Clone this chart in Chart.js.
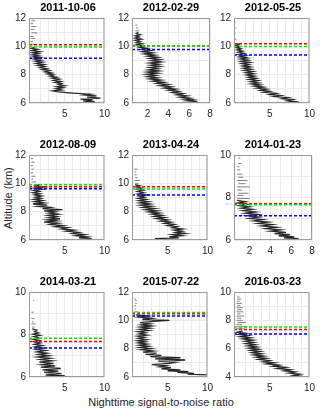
<!DOCTYPE html>
<html>
<head>
<meta charset="utf-8">
<title>Nighttime SNR profiles</title>
<script src="https://cdn.jsdelivr.net/npm/chart.js"></script>
<style>
  body { margin: 0; background: #fff; font-family: "Liberation Sans", Arial, sans-serif; }
  #wrap { position: relative; width: 320px; height: 411px; overflow: hidden; }
  canvas { position: absolute; }
  .ttl { position: absolute; width: 78px; font-size: 11px; font-weight: bold; line-height: 14px; text-align: center; color: #000; }
  #ylab { position: absolute; left: 2px; top: 229px; font-size: 11px; color: #262626; transform-origin: 0 0; transform: rotate(-90deg); white-space: nowrap; }
  #xlab { position: absolute; left: 0; top: 396px; width: 322px; font-size: 11px; color: #262626; text-align: center; }
</style>
</head>
<body>
<div id="wrap">
  <div id="ylab">Altitude (km)</div>
  <div id="xlab">Nighttime signal-to-noise ratio</div>
</div>

<script>
// panel info
const dates = ['2011-10-06', '2012-02-29', '2012-05-25', '2012-08-09', '2013-04-24', '2014-01-23', '2014-03-21', '2015-07-22', '2016-03-23'];
const xMaxs = [10, 8, 10, 10, 10, 8, 10, 10, 10];
const yMins = [6, 6, 6, 6, 6, 6, 6, 6, 4];
const yMaxs = [12, 12, 12, 12, 12, 10, 10, 12, 10];

// threshold altitudes (km)
const redAlt   = [10.12, 10.05, 10.19, 9.76, 9.76, 7.71, 7.67, 10.47, 7.35];
const greenAlt = [9.96, 10.02, 9.99, 9.90, 9.60, 7.66, 7.82, 10.55, 7.53];
const blueAlt  = [9.16, 9.78, 9.39, 9.62, 9.18, 7.14, 7.37, 10.30, 7.03];

// profiles: [altitude, snr]
const prof1 = [[6.00,9.2],[6.05,7.6],[6.10,8.8],[6.15,7.3],[6.22,8.5],[6.28,7.0],[6.35,9.5],[6.42,7.8],[6.50,9.0],[6.56,7.5],[6.62,8.2],[6.70,6.0],[6.78,4.2],[6.85,3.5],[6.92,4.6],[7.00,3.9],[7.08,4.8],[7.15,4.0],[7.22,5.0],[7.30,4.2],[7.38,4.6],[7.45,3.8],[7.52,4.5],[7.60,3.6],[7.68,4.3],[7.75,3.4],[7.82,4.0],[7.90,3.1],[7.98,3.6],[8.05,2.8],[8.12,3.4],[8.20,2.5],[8.28,3.1],[8.35,2.2],[8.42,2.8],[8.50,1.9],[8.58,2.5],[8.65,1.6],[8.72,2.4],[8.80,1.4],[8.88,2.2],[8.95,1.3],[9.02,2.0],[9.10,1.1],[9.18,1.9],[9.25,1.0],[9.32,1.8],[9.40,0.9],[9.48,1.7],[9.55,1.0],[9.62,1.9],[9.70,0.9],[9.78,1.6],[9.85,0.8],[9.92,1.2]];
const prof2 = [[6.00,7.0],[6.05,6.2],[6.10,6.8],[6.16,5.8],[6.22,6.4],[6.28,5.5],[6.35,6.1],[6.42,5.1],[6.50,5.8],[6.58,4.8],[6.66,5.4],[6.74,4.4],[6.82,5.0],[6.90,4.0],[6.98,4.7],[7.06,3.6],[7.14,4.3],[7.22,3.2],[7.30,4.0],[7.38,2.9],[7.46,3.6],[7.54,2.5],[7.62,3.3],[7.70,2.2],[7.78,3.0],[7.86,2.0],[7.94,2.8],[8.02,1.9],[8.10,3.0],[8.18,2.0],[8.26,3.1],[8.34,2.1],[8.42,3.0],[8.50,2.2],[8.58,3.2],[8.66,2.3],[8.74,3.1],[8.82,2.2],[8.90,3.3],[8.98,2.4],[9.06,3.2],[9.14,2.2],[9.22,3.0],[9.30,2.0],[9.38,2.7],[9.46,1.7],[9.54,2.5],[9.62,1.5],[9.70,2.3],[9.78,1.4],[9.86,2.0],[9.94,1.2],[10.02,1.6],[10.10,0.9],[10.18,1.5],[10.26,0.9],[10.34,1.3],[10.42,0.8],[10.50,1.4],[10.58,0.8],[10.66,1.2],[10.74,0.8],[10.82,1.3],[10.90,0.9],[11.00,1.1]];
const prof3 = [[6.00,8.6],[6.05,7.6],[6.10,8.2],[6.16,7.2],[6.24,7.9],[6.30,6.6],[6.38,7.3],[6.45,5.6],[6.52,6.4],[6.60,5.0],[6.68,5.8],[6.75,4.3],[6.82,5.0],[6.90,3.8],[6.98,4.6],[7.05,3.4],[7.12,4.2],[7.20,3.0],[7.28,3.8],[7.35,2.7],[7.42,3.6],[7.50,2.6],[7.58,3.5],[7.66,2.4],[7.74,3.3],[7.82,2.3],[7.90,3.1],[7.98,2.1],[8.06,3.0],[8.14,2.0],[8.22,2.9],[8.30,1.8],[8.38,2.7],[8.46,1.7],[8.54,2.6],[8.62,1.6],[8.70,2.4],[8.78,1.5],[8.86,2.5],[8.94,1.4],[9.02,2.3],[9.10,1.3],[9.18,2.2],[9.26,1.2],[9.34,2.0],[9.42,1.1],[9.50,1.8],[9.58,1.0],[9.66,1.6],[9.74,0.9],[9.82,1.4],[9.90,0.8],[9.98,1.3],[10.06,0.7],[10.14,1.1],[10.20,0.8]];
const prof4 = [[6.00,9.6],[6.05,7.5],[6.10,8.4],[6.16,6.8],[6.22,7.8],[6.30,6.4],[6.38,7.5],[6.46,6.0],[6.54,6.8],[6.62,5.2],[6.70,6.2],[6.78,4.6],[6.86,5.4],[6.94,3.8],[7.02,4.8],[7.10,3.2],[7.18,4.2],[7.26,2.4],[7.34,4.0],[7.42,2.8],[7.50,4.4],[7.58,3.0],[7.66,4.0],[7.74,2.9],[7.82,4.2],[7.90,3.0],[7.98,3.8],[8.06,2.4],[8.14,4.7],[8.22,2.2],[8.30,3.2],[8.38,1.6],[8.46,2.8],[8.54,1.0],[8.62,2.4],[8.70,1.2],[8.78,2.2],[8.86,1.1],[8.94,2.0],[9.02,1.3],[9.10,2.1],[9.18,1.2],[9.26,1.9],[9.34,1.0],[9.42,1.8],[9.50,1.1],[9.58,2.2],[9.66,1.2],[9.74,2.4],[9.82,1.3],[9.90,1.8]];
const prof5 = [[6.02,2.6],[6.06,4.8],[6.10,3.4],[6.15,6.4],[6.22,5.2],[6.30,6.8],[6.38,5.6],[6.46,7.2],[6.54,6.0],[6.62,6.8],[6.70,5.8],[6.78,6.9],[6.86,5.6],[6.94,6.2],[7.02,5.0],[7.10,5.8],[7.18,4.6],[7.26,5.4],[7.34,4.1],[7.42,5.0],[7.50,3.6],[7.58,4.6],[7.66,3.3],[7.74,4.3],[7.82,3.0],[7.90,4.0],[7.98,2.6],[8.06,3.7],[8.14,2.2],[8.22,3.4],[8.30,1.9],[8.38,3.0],[8.46,1.6],[8.54,2.8],[8.62,1.5],[8.70,2.6],[8.78,1.4],[8.86,2.3],[8.94,1.3],[9.02,2.1],[9.10,1.4],[9.18,2.4],[9.26,1.3],[9.34,2.0],[9.42,1.2],[9.50,1.9],[9.58,1.1],[9.66,1.7],[9.74,1.0],[9.82,1.5],[9.90,0.9]];
const prof6 = [[6.02,5.8],[6.06,6.7],[6.10,5.3],[6.15,6.3],[6.20,4.8],[6.25,5.9],[6.30,4.4],[6.36,5.5],[6.42,4.0],[6.48,5.0],[6.54,3.6],[6.60,4.6],[6.66,3.2],[6.72,4.2],[6.78,2.8],[6.84,3.8],[6.90,2.4],[6.96,3.3],[7.02,2.0],[7.08,2.9],[7.14,1.8],[7.20,2.8],[7.26,1.6],[7.32,2.6],[7.38,1.4],[7.44,2.3],[7.50,1.2],[7.56,2.0],[7.62,1.0],[7.68,1.8],[7.74,0.9],[7.80,1.6],[7.86,0.8]];
const prof7 = [[6.02,2.2],[6.06,5.0],[6.10,2.6],[6.16,4.6],[6.22,2.4],[6.28,4.2],[6.34,2.2],[6.40,4.5],[6.46,2.0],[6.52,3.8],[6.58,2.1],[6.64,3.6],[6.70,1.8],[6.76,3.4],[6.82,1.9],[6.88,3.2],[6.94,1.6],[7.00,3.0],[7.06,1.7],[7.12,2.8],[7.18,1.5],[7.24,2.6],[7.30,1.4],[7.36,2.4],[7.42,1.3],[7.48,2.2],[7.54,1.2],[7.60,1.9],[7.66,1.1],[7.72,1.8],[7.78,1.0],[7.84,1.7],[7.90,1.1],[7.96,1.9],[8.02,1.0],[8.08,1.7],[8.14,1.2],[8.20,1.5],[8.26,0.9]];
const prof8 = [[6.15,9.9],[6.20,7.5],[6.26,8.3],[6.32,6.2],[6.38,7.6],[6.44,5.0],[6.50,6.6],[6.58,4.2],[6.66,5.4],[6.72,4.0],[6.80,4.8],[6.88,3.0],[6.96,5.2],[7.04,6.0],[7.12,3.8],[7.20,7.2],[7.28,3.4],[7.36,6.6],[7.44,2.8],[7.52,4.2],[7.60,2.2],[7.68,3.6],[7.76,1.9],[7.84,3.2],[7.92,1.7],[8.00,2.9],[8.08,1.5],[8.16,2.6],[8.24,1.4],[8.32,2.4],[8.40,1.3],[8.48,2.2],[8.56,1.2],[8.64,2.3],[8.72,1.3],[8.80,2.1],[8.88,1.2],[8.96,2.4],[9.04,1.4],[9.12,2.2],[9.20,1.3],[9.28,2.6],[9.36,1.5],[9.44,2.8],[9.52,1.6],[9.60,3.0],[9.68,1.7],[9.76,2.8],[9.84,1.5],[9.92,3.2],[10.00,5.2],[10.06,1.8],[10.14,3.0],[10.22,1.4],[10.30,2.5],[10.38,1.0]];
const prof9 = [[4.05,9.2],[4.12,8.0],[4.20,8.8],[4.28,7.4],[4.36,8.2],[4.44,6.8],[4.52,7.6],[4.60,6.0],[4.68,7.0],[4.76,5.4],[4.84,6.2],[4.92,4.6],[5.00,5.6],[5.08,4.2],[5.16,5.0],[5.24,3.6],[5.32,4.6],[5.40,3.3],[5.48,4.3],[5.56,3.0],[5.64,4.0],[5.72,2.8],[5.80,3.8],[5.88,2.6],[5.96,3.6],[6.04,2.4],[6.12,3.4],[6.20,2.2],[6.28,3.2],[6.36,2.0],[6.44,3.0],[6.52,1.9],[6.60,2.9],[6.68,1.6],[6.76,2.6],[6.84,1.3],[6.92,2.3],[7.00,1.1],[7.08,2.0],[7.16,0.9],[7.24,1.6]];

// sparse returns above the profile: [altitude, snrFrom, snrTo]
const top1 = [[10.15,0.8,1.2],[10.35,0.7,1.0],[10.55,0.8,1.3],[10.70,0.7,1.1],[10.95,0.8,1.5],[11.20,0.7,1.2],[11.40,0.8,1.4],[11.60,0.7,1.0],[11.80,0.8,1.3],[11.95,0.7,1.1]];
const top2 = [[11.10,0.8,1.2],[11.30,0.9,1.1],[11.50,0.8,1.0]];
const top3 = [[10.50,0.6,0.8],[10.90,0.6,0.7],[11.30,0.7,0.8],[11.70,0.6,0.7]];
const top4 = [[10.10,0.8,1.4],[10.30,0.8,1.0],[10.50,0.8,1.3],[10.75,0.7,1.0],[11.00,0.8,1.1],[11.25,0.7,1.0],[11.50,0.8,1.2],[11.75,0.7,1.0]];
const top5 = [[10.00,0.9,1.3],[10.20,0.8,1.5],[10.40,0.9,1.2],[10.60,0.8,1.1],[10.80,0.8,1.0],[11.00,0.8,1.2],[11.95,0.8,1.2]];
const top6 = [[7.95,0.8,2.0],[8.10,0.8,1.4],[8.20,0.9,1.9],[8.35,0.8,1.3],[8.50,0.8,2.0],[8.65,0.9,1.6],[8.80,0.8,1.8],[8.95,0.9,1.4],[9.10,0.8,1.3],[9.30,0.8,1.1],[9.45,0.8,1.0],[9.60,0.9,1.2],[9.85,0.9,1.1]];
const top7 = [[8.35,0.9,1.2],[8.50,0.8,1.3],[8.60,0.9,1.1],[8.75,0.8,1.2],[8.90,0.9,1.0],[9.05,0.8,1.1],[9.25,0.9,1.0],[9.60,1.0,1.1]];
const top8 = [[10.60,0.8,1.3],[10.80,0.8,1.0],[11.05,0.8,1.0],[11.20,0.9,1.1],[11.40,0.9,1.1],[11.50,0.8,1.0]];
const top9 = [[7.40,0.8,1.8],[7.55,0.9,2.2],[7.70,0.8,1.5],[7.85,0.9,2.0],[8.00,0.8,1.6],[8.15,0.9,1.4],[8.30,0.8,1.8],[8.45,0.9,1.3],[8.60,0.8,1.7],[8.75,0.9,1.5],[8.90,0.8,1.6],[9.05,0.9,1.3],[9.20,0.8,1.5],[9.35,0.9,1.2],[9.50,0.9,1.4],[9.65,0.9,1.2]];

const profiles = [prof1, prof2, prof3, prof4, prof5, prof6, prof7, prof8, prof9];
const tops = [top1, top2, top3, top4, top5, top6, top7, top8, top9];

// layout of the plot boxes (px)
const colLeft = [29, 132, 234];
const rowTop = [15, 152, 289];
const titleY = [0, 137, 274];
const plotW = 78, plotH = 88;
const padL = 24, padT = 6, padR = 8, padB = 20;

Chart.defaults.font.family = '"Liberation Sans", Arial, sans-serif';
Chart.defaults.font.size = 10;
Chart.defaults.color = '#262626';

// MATLAB-style box round the axes
const boxPlugin = {
  id: 'box',
  afterDraw(chart) {
    const a = chart.chartArea, ctx = chart.ctx;
    ctx.save();
    ctx.strokeStyle = '#9a9a9a';
    ctx.lineWidth = 1;
    ctx.strokeRect(a.left + 0.5, a.top + 0.5, a.right - a.left - 1, a.bottom - a.top - 1);
    ctx.restore();
  }
};

function hline(alt, xMax, color) {
  return {
    data: [{ x: 0.5, y: alt }, { x: xMax, y: alt }],
    showLine: true, borderColor: color, borderWidth: 1.5, borderDash: [3, 2], pointRadius: 0
  };
}

const wrap = document.getElementById('wrap');
for (let i = 0; i < 9; i++) {
  const r = Math.floor(i / 3), c = i % 3;
  const cv = document.createElement('canvas');
  cv.width = padL + plotW + padR;
  cv.height = padT + plotH + padB;
  cv.style.left = (colLeft[c] - padL) + 'px';
  cv.style.top = (rowTop[r] - padT) + 'px';
  wrap.appendChild(cv);

  const t = document.createElement('div');
  t.className = 'ttl';
  t.style.left = colLeft[c] + 'px';
  t.style.top = titleY[r] + 'px';
  t.textContent = dates[i];
  wrap.appendChild(t);

  const xMax = xMaxs[i];
  const upper = [];
  tops[i].forEach(d => {
    upper.push({ x: d[1], y: d[0] }, { x: d[2], y: d[0] }, { x: null, y: null });
  });

  new Chart(cv, {
    type: 'scatter',
    data: {
      datasets: [
        hline(greenAlt[i], xMax, '#00ee00'),
        hline(redAlt[i], xMax, '#ff0000'),
        hline(blueAlt[i], xMax, '#0000ff'),
        { data: profiles[i].map(p => ({ x: p[1], y: p[0] })), showLine: true, borderColor: 'rgba(0,0,0,0.85)', borderWidth: 1.3, pointRadius: 0 },
        { data: upper, showLine: true, spanGaps: false, borderColor: '#808080', borderWidth: 1, pointRadius: 0 }
      ]
    },
    options: {
      responsive: false,
      animation: false,
      layout: { padding: { left: 0, top: padT, right: padR, bottom: 0 } },
      plugins: { legend: { display: false }, tooltip: { enabled: false } },
      scales: {
        x: {
          type: 'linear', min: 0.5, max: xMax,
          afterFit: s => { s.height = padB; },
          grid: { color: '#ebebeb', drawTicks: false },
          border: { display: false },
          ticks: {
            stepSize: 1, autoSkip: false, maxRotation: 0, padding: 5,
            callback: v => (xMax === 8 ? (v % 2 === 0 && v > 0 ? v : '') : (v % 5 === 0 ? v : ''))
          }
        },
        y: {
          type: 'linear', min: yMins[i], max: yMaxs[i],
          afterFit: s => { s.width = padL; },
          grid: { color: '#ebebeb', drawTicks: false },
          border: { display: false },
          ticks: {
            stepSize: 1, autoSkip: false, padding: 3,
            callback: v => (v % 2 === 0 ? v : '')
          }
        }
      }
    },
    plugins: [boxPlugin]
  });
}
</script>
</body>
</html>
